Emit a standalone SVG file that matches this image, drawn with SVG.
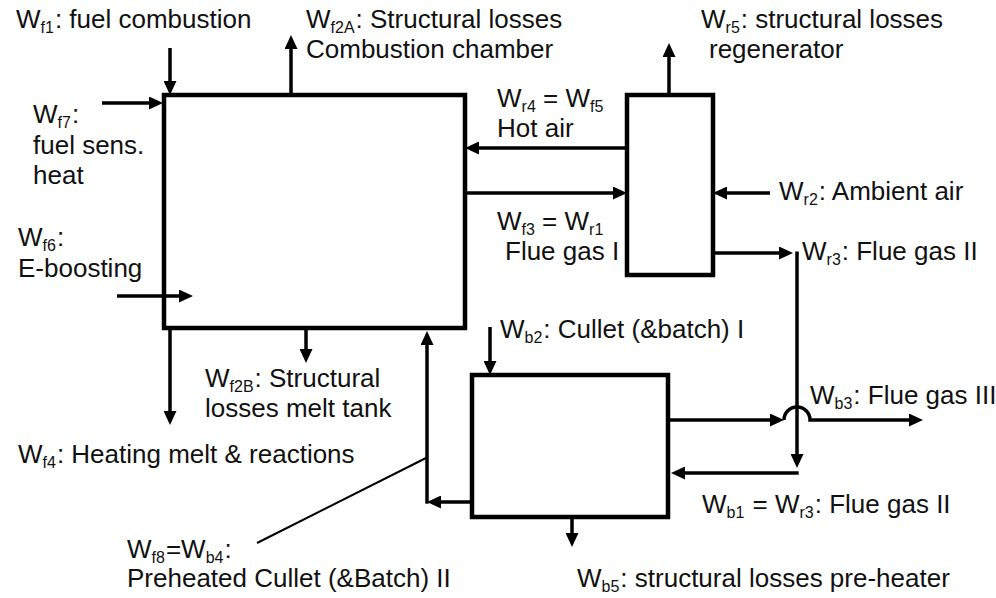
<svg xmlns="http://www.w3.org/2000/svg" width="996" height="598" viewBox="0 0 996 598">
<defs>
<style>
.box{fill:#fff;stroke:#000;stroke-width:4.5}
.c{fill:none;stroke:#000;stroke-width:3.5}
.a{marker-end:url(#ah)}
.thin{fill:none;stroke:#000;stroke-width:2}
text{font-family:"Liberation Sans",Arial,sans-serif;font-size:26px;fill:#111}
.s{font-size:16px}
</style>
<marker id="ah" markerUnits="userSpaceOnUse" viewBox="0 0 14 13" markerWidth="14" markerHeight="13" refX="10" refY="6.5" orient="auto">
<path d="M0,0 L14,6.5 L0,13 z" fill="#000"/>
</marker>
</defs>
<rect width="996" height="598" fill="#fff"/>
<g id="combustion-chamber"><rect class="box" x="164" y="95" width="301" height="233"/></g>
<g id="regenerator"><rect class="box" x="627" y="95" width="86" height="180"/></g>
<g id="pre-heater"><rect class="box" x="472" y="375" width="196" height="142"/></g>
<g id="connectors">
<path class="c a" d="M170,48 V91"/>
<path class="c a" d="M102,103 H159"/>
<path class="c a" d="M291,95 V39"/>
<path class="c a" d="M669,95 V47"/>
<path class="c a" d="M627,148 H469"/>
<path class="c a" d="M465,193 H623"/>
<path class="c a" d="M770,193 H717"/>
<path class="c a" d="M713,253 H789"/>
<path class="c a" d="M797,251.5 V464"/>
<path class="c a" d="M798.7,473 H675"/>
<path class="c a" d="M670,420 H780"/>
<path class="c a" d="M784,420 A13,13 0 0 1 810,420 H919"/>
<path class="c a" d="M490,327 V371"/>
<path class="c a" d="M572,517 V543"/>
<path class="c a" d="M472,502 H431"/>
<path class="c a" d="M427,503.7 V335"/>
<path class="thin" d="M426,458 L257,543"/>
<path class="c a" d="M306,328 V359"/>
<path class="c a" d="M170,328 V421"/>
<path class="c a" d="M117,296 H189"/>
</g>
<g id="labels">
<text x="16" y="28">W<tspan class="s" dy="5">f1</tspan><tspan dy="-5" dx="1">: fuel combustion</tspan></text>
<text x="306" y="28">W<tspan class="s" dy="5">f2A</tspan><tspan dy="-5" dx="1">: Structural losses</tspan></text>
<text x="306" y="58">Combustion chamber</text>
<text x="701" y="28">W<tspan class="s" dy="5">r5</tspan><tspan dy="-5" dx="1">: structural losses</tspan></text>
<text x="709" y="58">regenerator</text>
<text x="497" y="107">W<tspan class="s" dy="5">r4</tspan><tspan dy="-5"> = W</tspan><tspan class="s" dy="5">f5</tspan></text>
<text x="497" y="137">Hot air</text>
<text x="33" y="123">W<tspan class="s" dy="5">f7</tspan><tspan dy="-5" dx="1">:</tspan></text>
<text x="33" y="154">fuel sens.</text>
<text x="33" y="184">heat</text>
<text x="779" y="200">W<tspan class="s" dy="5">r2</tspan><tspan dy="-5" dx="1">: Ambient air</tspan></text>
<text x="497" y="230">W<tspan class="s" dy="5">f3</tspan><tspan dy="-5"> = W</tspan><tspan class="s" dy="5">r1</tspan></text>
<text x="505" y="260">Flue gas I</text>
<text x="802" y="260">W<tspan class="s" dy="5">r3</tspan><tspan dy="-5" dx="1">: Flue gas II</tspan></text>
<text x="18" y="246">W<tspan class="s" dy="5">f6</tspan><tspan dy="-5" dx="1">:</tspan></text>
<text x="18" y="277">E-boosting</text>
<text x="500" y="338">W<tspan class="s" dy="5">b2</tspan><tspan dy="-5" dx="1">: Cullet (&amp;batch) I</tspan></text>
<text x="205" y="387">W<tspan class="s" dy="5">f2B</tspan><tspan dy="-5" dx="1">: Structural</tspan></text>
<text x="205" y="417">losses melt tank</text>
<text x="810" y="404">W<tspan class="s" dy="5">b3</tspan><tspan dy="-5" dx="1">: Flue gas III</tspan></text>
<text x="18" y="463">W<tspan class="s" dy="5">f4</tspan><tspan dy="-5" dx="1">: Heating melt &amp; reactions</tspan></text>
<text x="702" y="513">W<tspan class="s" dy="5">b1</tspan><tspan dy="-5" dx="1"> = W</tspan><tspan class="s" dy="5">r3</tspan><tspan dy="-5" dx="1">: Flue gas II</tspan></text>
<text x="127" y="558">W<tspan class="s" dy="5">f8</tspan><tspan dy="-5" dx="1">=W</tspan><tspan class="s" dy="5">b4</tspan><tspan dy="-5" dx="1">:</tspan></text>
<text x="127" y="587">Preheated Cullet (&amp;Batch) II</text>
<text x="577" y="587">W<tspan class="s" dy="5">b5</tspan><tspan dy="-5" dx="1">: structural losses pre-heater</tspan></text>
</g>
</svg>
